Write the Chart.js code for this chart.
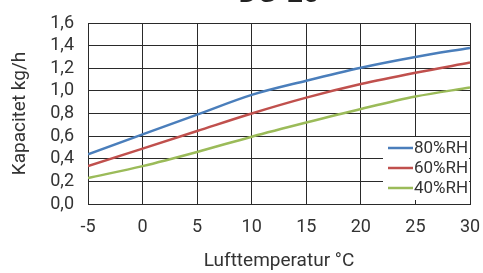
<!DOCTYPE html>
<html>
<head>
<meta charset="utf-8">
<script src="https://cdn.jsdelivr.net/npm/chart.js@4/dist/chart.umd.min.js"></script>
<style>
  html, body { margin: 0; padding: 0; background: #fff; }
  #wrap { width: 483px; height: 273px; position: relative; }
</style>
</head>
<body>
<div id="wrap"><canvas id="chart" width="483" height="273"></canvas></div>
<script>
// --- данные ---
const temps = [-5, 0, 5, 10, 15, 20, 25, 30];
const rh80 = [0.44, 0.615, 0.79, 0.965, 1.09, 1.205, 1.30, 1.38];
const rh60 = [0.335, 0.49, 0.645, 0.80, 0.94, 1.06, 1.16, 1.25];
const rh40 = [0.23, 0.335, 0.46, 0.595, 0.72, 0.84, 0.95, 1.03];
const seriesLabels = ['80%RH', '60%RH', '40%RH'];
const seriesColors = ['#4a7ebb', '#c0504d', '#9bbb59'];
const chartTitle = 'DG-20';
const xTitle = 'Lufttemperatur °C';
const yTitle = 'Kapacitet kg/h';

const FONT = 'Roboto, "DejaVu Sans", sans-serif';
const TEXT = '#333';

const toPoints = arr => arr.map((v, i) => ({ x: temps[i], y: v }));

// легенда внутри области графика (на белом фоне)
const innerLegend = {
    id: 'innerLegend',
    afterDatasetsDraw(chart) {
        const { ctx, chartArea } = chart;
        const x0 = chartArea.right - 87;
        const y0 = chartArea.bottom - 67;
        ctx.save();
        ctx.fillStyle = '#fff';
        ctx.fillRect(x0, y0, 86, 63);
        ctx.font = '17px ' + FONT;
        ctx.textBaseline = 'middle';
        chart.data.datasets.forEach((ds, i) => {
            const y = y0 + 11 + i * 20;
            ctx.strokeStyle = ds.borderColor;
            ctx.lineWidth = 2.5;
            ctx.beginPath();
            ctx.moveTo(x0 + 5, y);
            ctx.lineTo(x0 + 30, y);
            ctx.stroke();
            ctx.fillStyle = TEXT;
            ctx.fillText(ds.label, x0 + 31, y + 1);
        });
        ctx.restore();
    }
};

// заголовок, обрезанный сверху
const cutTitle = {
    id: 'cutTitle',
    afterDraw(chart) {
        const { ctx, chartArea } = chart;
        ctx.save();
        ctx.font = 'bold 28px ' + FONT;
        ctx.fillStyle = '#222';
        ctx.textAlign = 'center';
        ctx.textBaseline = 'alphabetic';
        ctx.fillText(chartTitle, (chartArea.left + chartArea.right) / 2, 2);
        ctx.restore();
    }
};

new Chart(document.getElementById('chart'), {
    type: 'line',
    data: {
        datasets: [rh80, rh60, rh40].map((arr, i) => ({
            label: seriesLabels[i],
            data: toPoints(arr),
            borderColor: seriesColors[i],
            backgroundColor: seriesColors[i],
            borderWidth: 2.5,
            pointRadius: 0,
            cubicInterpolationMode: 'monotone',
            fill: false
        }))
    },
    options: {
        responsive: false,
        animation: false,
        layout: { padding: { top: 23, right: 13, left: 0, bottom: 0 } },
        plugins: {
            legend: { display: false },
            tooltip: { enabled: false },
            title: { display: false }
        },
        scales: {
            x: {
                type: 'linear',
                min: -5,
                max: 30,
                afterFit: s => { s.height = 69; s.paddingLeft = 0; s.paddingRight = 0; },
                ticks: {
                    stepSize: 5,
                    autoSkip: false,
                    maxRotation: 0,
                    padding: 13,
                    color: TEXT,
                    font: { family: FONT, size: 18 }
                },
                grid: { color: '#2a2a2a', lineWidth: 1, drawTicks: false },
                border: { color: '#2a2a2a', width: 1 },
                title: {
                    display: true,
                    text: xTitle,
                    color: TEXT,
                    font: { family: FONT, size: 19 },
                    padding: { top: 7, bottom: 0 }
                }
            },
            y: {
                min: 0,
                max: 1.6,
                afterFit: s => { s.width = 88; s.paddingTop = 0; s.paddingBottom = 0; },
                ticks: {
                    stepSize: 0.2,
                    autoSkip: false,
                    padding: 14,
                    color: TEXT,
                    font: { family: FONT, size: 18, lineHeight: 1 },
                    callback: v => v.toFixed(1).replace('.', ',')
                },
                grid: { color: '#2a2a2a', lineWidth: 1, drawTicks: false },
                border: { color: '#2a2a2a', width: 1 },
                title: {
                    display: true,
                    text: yTitle,
                    color: TEXT,
                    font: { family: FONT, size: 19 },
                    padding: { top: 9, bottom: 4 }
                }
            }
        }
    },
    plugins: [innerLegend, cutTitle]
});
</script>
</body>
</html>
